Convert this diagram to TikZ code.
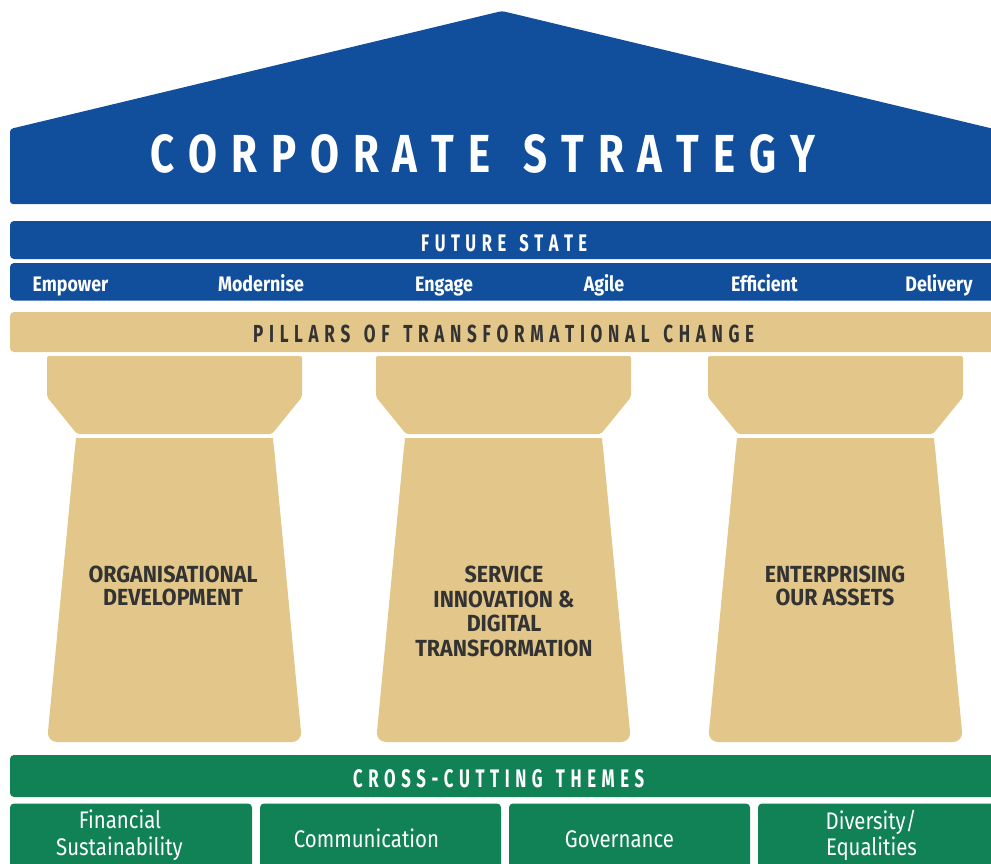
\documentclass[tikz,border=0pt]{standalone}
\usepackage{graphicx}
\usepackage{fontspec}
\setmainfont{Fira Sans}
\newfontfamily\cf{Fira Sans}[FakeStretch=0.85]
\newfontfamily\cfp{Fira Sans}[FakeStretch=0.92]
\newfontfamily\cft{Fira Sans}[FakeStretch=0.78]
\definecolor{csblue}{HTML}{114F9C}
\definecolor{cstan}{HTML}{E3C78A}
\definecolor{csgreen}{HTML}{108256}
\definecolor{cstext}{HTML}{333333}
\newcommand\g{\kern0.26em}
\newcommand\wg{\kern0.62em}
\tikzset{
  ttl/.style={inner sep=0pt, anchor=base west},
  word/.style={inner sep=0pt, anchor=base, text=white, font=\cf\bfseries\fontsize{21}{24}\selectfont},
  ptxt/.style={inner sep=0pt, anchor=base, text=cstext, font=\cfp\bfseries\fontsize{23.3}{26}\selectfont},
  btxt/.style={inner sep=0pt, anchor=base, text=white, font=\cf\fontsize{24}{27}\selectfont},
}
\begin{document}
\begin{tikzpicture}[x=1pt,y=-1pt]
\useasboundingbox (0,0) rectangle (991,863);
\clip (0,0) rectangle (991,863);
% roof
\fill[csblue, rounded corners=3pt] (10,204) -- (10,129) -- (502,11) -- (994,129) -- (994,204) -- cycle;
\node[ttl, text=white] (title) at (150,172) {\resizebox{665pt}{38pt}{\cft\bfseries C\g O\g R\g P\g O\g R\g A\g T\g E\wg S\g T\g R\g A\g T\g E\g G\g Y}};
% future state
\fill[csblue, rounded corners=4pt] (10,221) rectangle (1000,259);
\node[ttl, text=white] (future) at (421,251) {\resizebox{166pt}{17pt}{\cft\bfseries F\g U\g T\g U\g R\g E\wg S\g T\g A\g T\g E}};
\fill[csblue, rounded corners=4pt] (10,263) rectangle (1000,300.5);
\node[word] (w1) at (70.5,291) {Empower};
\node[word] (w2) at (261,291) {Modernise};
\node[word] (w3) at (444,291) {Engage};
\node[word] (w4) at (604,291) {Agile};
\node[word] (w5) at (764.5,291) {Efficient};
\node[word] (w6) at (939,291) {Delivery};
% pillars bar
\fill[cstan, rounded corners=4pt] (10,312) rectangle (1000,352);
\node[ttl, text=cstext] (pillars) at (253,342) {\resizebox{501pt}{17.5pt}{\cft\bfseries P\g I\g L\g L\g A\g R\g S\wg O\g F\wg T\g R\g A\g N\g S\g F\g O\g R\g M\g A\g T\g I\g O\g N\g A\g L\wg C\g H\g A\g N\g G\g E}};
% pillars
\foreach \x in {47,376,708} {
  \fill[cstan, rounded corners=2pt] (\x,356) -- (\x+255,356) -- (\x+255,397) -- (\x+225,434) -- (\x+30,434) -- (\x,397) -- cycle;
  \fill[cstan, rounded corners=10pt] (\x+29,438) -- (\x+226,438) -- (\x+255,742) -- (\x,742) -- cycle;
  \fill[cstan] (\x+29,438) -- (\x+226,438) -- (\x+245,640) -- (\x+10,640) -- cycle;
}
\node[ptxt] (p1a) at (173,582) {ORGANISATIONAL};
\node[ptxt] (p1b) at (173,605) {DEVELOPMENT};
\node[ptxt] (p2a) at (504,582) {SERVICE};
\node[ptxt] (p2b) at (504,607) {INNOVATION \&};
\node[ptxt] (p2c) at (504,631.5) {DIGITAL};
\node[ptxt] (p2d) at (504,656.5) {TRANSFORMATION};
\node[ptxt] (p3a) at (835,582) {ENTERPRISING};
\node[ptxt] (p3b) at (835,605) {OUR ASSETS};
% cross-cutting
\fill[csgreen, rounded corners=4pt] (10,755) rectangle (1000,797);
\node[ttl, text=white] (cross) at (353,787) {\resizebox{291pt}{18pt}{\cft\bfseries C\g R\g O\g S\g S\g -\g C\g U\g T\g T\g I\g N\g G\wg T\g H\g E\g M\g E\g S}};
\fill[csgreen, rounded corners=4pt] (10,803.5) rectangle (252,880);
\fill[csgreen, rounded corners=4pt] (260,803.5) rectangle (501,880);
\fill[csgreen, rounded corners=4pt] (509,803.5) rectangle (750,880);
\fill[csgreen, rounded corners=4pt] (758,803.5) rectangle (1000,880);
\node[btxt] (b1a) at (120,828) {Financial};
\node[btxt] (b1b) at (119.5,855) {Sustainability};
\node[btxt] (b2) at (366.5,847) {Communication};
\node[btxt] (b3) at (619.5,847) {Governance};
\node[btxt] (b4a) at (871,829) {Diversity/};
\node[btxt] (b4b) at (871.5,855) {Equalities};
\end{tikzpicture}
\end{document}
